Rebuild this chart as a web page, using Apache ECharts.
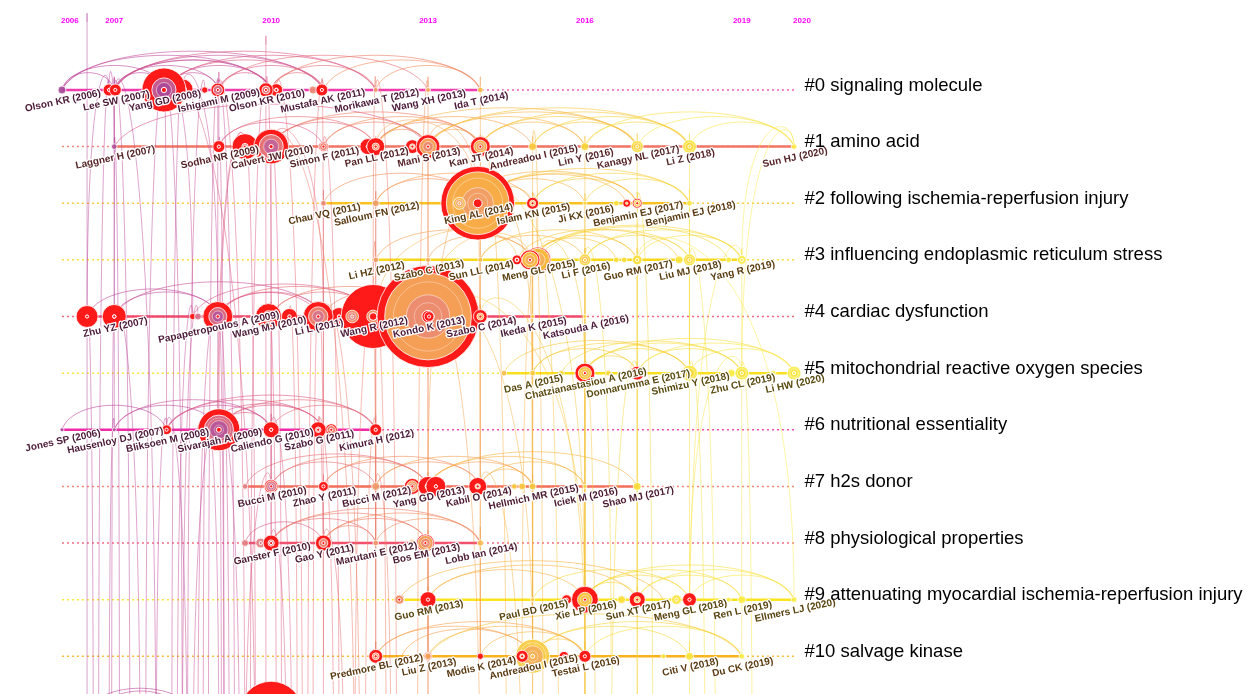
<!DOCTYPE html>
<html>
<head>
<meta charset="utf-8">
<title>Timeline view</title>
<script src="https://cdn.jsdelivr.net/npm/echarts@6.0.0/dist/echarts.min.js"></script>
<style>
  html, body { margin: 0; padding: 0; background: #fff; }
  #timeline { width: 1248px; height: 694px; }
</style>
</head>
<body>
<div id="timeline"></div>
<script>
// time slices printed along the top
const yearTicks = ['2006', '2007', '2010', '2013', '2016', '2019', '2020'];

const clusterNames = [
    '#0 signaling molecule',
    '#1 amino acid',
    '#2 following ischemia-reperfusion injury',
    '#3 influencing endoplasmic reticulum stress',
    '#4 cardiac dysfunction',
    '#5 mitochondrial reactive oxygen species',
    '#6 nutritional essentiality',
    '#7 h2s donor',
    '#8 physiological properties',
    '#9 attenuating myocardial ischemia-reperfusion injury',
    '#10 salvage kinase'
];

// nodes of each cluster : [year, citations, burst share, label]
const cluster0 = [
    [2006, 4, 0, 'Olson KR (2006)'],
    [2006.9, 9, 0.9, ''],
    [2007.02, 9, 0.9, 'Lee SW (2007)'],
    [2008.3, 30, 0.6, ''],
    [2007.95, 121, 0.45, 'Yang GD (2008)'],
    [2008.73, 2.5, 1, ''],
    [2008.98, 12, 0.35, 'Ishigami M (2009)'],
    [2010.1, 10, 0.7, ''],
    [2009.9, 13, 0.45, 'Olson KR (2010)'],
    [2010.8, 4, 0, ''],
    [2010.97, 9, 1, 'Mustafa AK (2011)'],
    [2012, 1.5, 0, 'Morikawa T (2012)'],
    [2013, 1.5, 0, 'Wang XH (2013)'],
    [2014, 2, 0, 'Ida T (2014)']
];
const cluster1 = [
    [2007, 2, 0, 'Laggner H (2007)'],
    [2009, 9, 0.8, 'Sodha NR (2009)'],
    [2009.5, 42, 0.75, ''],
    [2010, 75, 0.3, 'Calvert JW (2010)'],
    [2011, 6, 0.2, 'Simon F (2011)'],
    [2011.85, 16, 0.8, ''],
    [2012, 20, 0.6, 'Pan LL (2012)'],
    [2012.7, 12, 0.6, ''],
    [2013, 36, 0.3, 'Mani S (2013)'],
    [2014, 25, 0.35, 'Kan JT (2014)'],
    [2015, 4, 0, 'Andreadou I (2015)'],
    [2016, 4, 0, 'Lin Y (2016)'],
    [2017, 9, 0, 'Kanagy NL (2017)'],
    [2018, 12, 0, 'Li Z (2018)'],
    [2020, 2, 0, 'Sun HJ (2020)']
];
const cluster2 = [
    [2011, 2, 0, 'Chau VQ (2011)'],
    [2012, 3, 0, 'Salloum FN (2012)'],
    [2013.95, 340, 0.15, 'King AL (2014)'],
    [2013.6, 9, 0, ''],
    [2015, 9, 0.5, 'Islam KN (2015)'],
    [2016, 1, 0, 'Ji KX (2016)'],
    [2016.6, 2, 0, ''],
    [2016.8, 4, 0.7, ''],
    [2017, 6, 0.3, 'Benjamin EJ (2017)'],
    [2018, 2, 0, 'Benjamin EJ (2018)']
];
const cluster3 = [
    [2012, 2, 0, 'Li HZ (2012)'],
    [2013, 1.5, 0, 'Szabo C (2013)'],
    [2014, 1.5, 0, 'Sun LL (2014)'],
    [2015.1, 42, 0.1, 'Meng GL (2015)'],
    [2014.95, 25, 0.2, ''],
    [2014.7, 6, 0.6, ''],
    [2016, 9, 0, 'Li F (2016)'],
    [2016.6, 2, 0, ''],
    [2016.75, 2, 0, ''],
    [2017, 6, 0, 'Guo RM (2017)'],
    [2017.8, 4, 0, ''],
    [2018, 9, 0, 'Liu MJ (2018)'],
    [2018.75, 2, 0, ''],
    [2019, 5, 0, 'Yang R (2019)']
];
const cluster4 = [
    [2006.48, 30, 0.9, ''],
    [2007, 36, 0.85, 'Zhu YZ (2007)'],
    [2008.5, 2.5, 1, ''],
    [2008.6, 3, 0, ''],
    [2008.98, 56, 0.4, 'Papapetropoulos A (2009)'],
    [2010.35, 16, 0.8, ''],
    [2009.95, 42, 0.55, 'Wang MJ (2010)'],
    [2011.3, 20, 0.8, ''],
    [2010.9, 56, 0.35, 'Li L (2011)'],
    [2011.95, 256, 0.8, 'Wang R (2012)'],
    [2011.55, 10, 0, ''],
    [2013, 650, 0.15, 'Kondo K (2013)'],
    [2013.02, 6, 1, ''],
    [2014, 12, 0.5, 'Szabo C (2014)'],
    [2015, 1, 0, 'Ikeda K (2015)'],
    [2016, 1, 0, 'Katsouda A (2016)']
];
const cluster5 = [
    [2014.45, 2, 0, ''],
    [2015, 2, 0, 'Das A (2015)'],
    [2015.55, 2, 0, ''],
    [2016, 25, 0.35, 'Chatzianastasiou A (2016)'],
    [2016.45, 2, 0, ''],
    [2017, 12, 0.5, 'Donnarumma E (2017)'],
    [2018, 16, 0, 'Shimizu Y (2018)'],
    [2018.8, 4, 0, ''],
    [2019, 12, 0, 'Zhu CL (2019)'],
    [2019.6, 2, 0, ''],
    [2020, 12, 0, 'Li HW (2020)']
];
const cluster6 = [
    [2006, 1, 0, 'Jones SP (2006)'],
    [2007, 1, 0, 'Hausenloy DJ (2007)'],
    [2008, 6, 0.9, 'Bliksoen M (2008)'],
    [2008.75, 20, 0.8, ''],
    [2009, 110, 0.3, 'Sivarajah A (2009)'],
    [2010, 16, 0.8, 'Caliendo G (2010)'],
    [2011.15, 9, 0.3, ''],
    [2010.9, 16, 0.65, 'Szabo G (2011)'],
    [2012, 9, 0.8, 'Kimura H (2012)']
];
const cluster7 = [
    [2009.5, 2, 0, ''],
    [2010, 12, 0.2, 'Bucci M (2010)'],
    [2011, 6, 0.9, 'Zhao Y (2011)'],
    [2012, 4, 0, 'Bucci M (2012)'],
    [2012.7, 16, 0.3, ''],
    [2013, 25, 0.7, 'Yang GD (2013)'],
    [2013.15, 25, 0.85, ''],
    [2013.95, 20, 0.7, 'Kabil O (2014)'],
    [2014.65, 2, 0, ''],
    [2014.8, 3, 0, ''],
    [2015, 3, 0, 'Hellmich MR (2015)'],
    [2016, 1, 0, 'Iciek M (2016)'],
    [2017, 4, 0, 'Shao MJ (2017)']
];
const cluster8 = [
    [2009.5, 3, 0, ''],
    [2009.8, 6, 0, ''],
    [2010, 16, 0.6, 'Ganster F (2010)'],
    [2011, 16, 0.45, 'Gao Y (2011)'],
    [2012, 2, 0, 'Marutani E (2012)'],
    [2012.7, 3, 0, ''],
    [2012.95, 20, 0.15, 'Bos EM (2013)'],
    [2014, 2.5, 0, 'Lobb Ian (2014)']
];
const cluster9 = [
    [2012.45, 6, 0.1, ''],
    [2013, 16, 0.9, 'Guo RM (2013)'],
    [2015, 1, 0, 'Paul BD (2015)'],
    [2015.65, 6, 1, ''],
    [2016, 45, 0.45, 'Xie LP (2016)'],
    [2016.7, 4, 0, ''],
    [2017, 16, 0.6, 'Sun XT (2017)'],
    [2017.75, 6, 0, ''],
    [2018, 12, 0.8, 'Meng GL (2018)'],
    [2018.75, 1.5, 0, ''],
    [2019, 4, 0, 'Ren L (2019)'],
    [2020, 2, 0, 'Ellmers LJ (2020)']
];
const cluster10 = [
    [2012, 12, 0.5, 'Predmore BL (2012)'],
    [2013, 4, 0.2, 'Liu Z (2013)'],
    [2014, 2.5, 1, 'Modis K (2014)'],
    [2015, 72, 0, 'Andreadou I (2015)'],
    [2014.8, 9, 0.6, ''],
    [2015.6, 6, 0.9, ''],
    [2016, 9, 0.9, 'Testai L (2016)'],
    [2017.5, 1.5, 0, ''],
    [2018, 4, 0, 'Citi V (2018)'],
    [2019, 2, 0, 'Du CK (2019)']
];
// next cluster, cut off by the bottom edge
const cluster11 = [
    [2007, 20, 0.3, ''],
    [2010, 250, 0.9, '']
];

// co-citation arcs inside one cluster : [cluster, yearA, yearB]
const rowArcs = [
    [0, 2006, 2010], [0, 2006, 2011], [0, 2006, 2008], [0, 2007, 2010], [0, 2007.02, 2010], [0, 2007, 2009],
    [0, 2007, 2011], [0, 2008, 2010], [0, 2008, 2011], [0, 2008, 2009], [0, 2009, 2011], [0, 2009, 2010],
    [0, 2010, 2012], [0, 2010, 2011], [0, 2011, 2014], [0, 2012, 2014], [0, 2008, 2012], [0, 2009, 2013],
    [0, 2007, 2008], [0, 2006, 2007], [0, 2007, 2012], [0, 2010, 2014],
    [1, 2007, 2013], [1, 2009, 2012], [1, 2010, 2013], [1, 2010, 2014], [1, 2011, 2014], [1, 2012, 2014],
    [1, 2012, 2015], [1, 2013, 2016], [1, 2013, 2017], [1, 2014, 2017], [1, 2014, 2018], [1, 2015, 2017],
    [1, 2016, 2018], [1, 2017, 2020], [1, 2018, 2020], [1, 2012, 2013], [1, 2013, 2014], [1, 2011, 2013],
    [1, 2010, 2012], [1, 2015, 2018], [1, 2014, 2016], [1, 2012, 2017], [1, 2009, 2011], [1, 2013, 2018],
    [1, 2016, 2020],
    [2, 2014, 2017], [2, 2014, 2018], [2, 2014, 2016], [2, 2015, 2017], [2, 2011, 2014], [2, 2012, 2014],
    [2, 2014, 2015], [2, 2015, 2018], [2, 2016, 2018], [2, 2013.6, 2017], [2, 2014, 2016.8], [2, 2012, 2015],
    [3, 2014, 2017], [3, 2015, 2018], [3, 2015, 2019], [3, 2015, 2017], [3, 2016, 2019], [3, 2016, 2018],
    [3, 2017, 2019], [3, 2014, 2016], [3, 2015, 2016.6], [3, 2012, 2015], [3, 2013, 2015], [3, 2015.1, 2018.75],
    [3, 2014.7, 2017.8],
    [4, 2007, 2009], [4, 2007, 2011], [4, 2009, 2012], [4, 2010, 2012], [4, 2011, 2013], [4, 2009, 2011],
    [4, 2012, 2014], [4, 2010, 2013], [4, 2008.5, 2012], [4, 2006.48, 2009], [4, 2008.98, 2010.9],
    [5, 2015, 2018], [5, 2016, 2019], [5, 2016, 2020], [5, 2017, 2020], [5, 2015, 2017], [5, 2016, 2018],
    [5, 2018, 2020], [5, 2015.55, 2019], [5, 2016, 2017], [5, 2014.45, 2018], [5, 2017, 2019],
    [6, 2006, 2008], [6, 2007, 2009], [6, 2008, 2010], [6, 2008, 2011], [6, 2009, 2011], [6, 2009, 2012],
    [6, 2010, 2012], [6, 2008, 2012], [6, 2007, 2010], [6, 2008.75, 2011], [6, 2009, 2010],
    [7, 2010, 2013], [7, 2011, 2014], [7, 2012, 2014], [7, 2013, 2015], [7, 2013, 2016], [7, 2014, 2016],
    [7, 2013, 2017], [7, 2012, 2015], [7, 2010, 2012], [7, 2014, 2015], [7, 2009.5, 2013], [7, 2011, 2013],
    [8, 2010, 2012], [8, 2010, 2013], [8, 2011, 2013], [8, 2012, 2014], [8, 2010, 2014], [8, 2011, 2012],
    [8, 2009.5, 2011], [8, 2011, 2014],
    [9, 2013, 2016], [9, 2013, 2017], [9, 2015, 2018], [9, 2016, 2018], [9, 2016, 2019], [9, 2017, 2019],
    [9, 2017, 2020], [9, 2018, 2020], [9, 2016, 2017], [9, 2012.45, 2017.5], [9, 2016, 2020],
    [10, 2012, 2015], [10, 2012, 2016], [10, 2013, 2016], [10, 2014, 2016], [10, 2015, 2018], [10, 2015, 2019],
    [10, 2016, 2019], [10, 2012.5, 2015], [10, 2013, 2019], [10, 2015, 2016],
    [11, 2006.48, 2008.5], [11, 2006.7, 2008.3]
];

// links between clusters : [yearA, clusterA, yearB, clusterB]
const crossLinks = [
    [2006.48, -1.2, 2006.48, 13], [2006.9, 0, 2006.48, 4], [2007, 0, 2007, 4], [2007, 0, 2007, 6],
    [2007, 0, 2007.3, 13], [2007.95, 0, 2008, 6], [2007.95, 0, 2007.6, 13], [2007.95, 0, 2008.3, 12],
    [2008.98, 0, 2008.98, 6], [2008.98, 0, 2009.3, 13], [2008.3, 0, 2008.98, 4], [2007, 4, 2007.5, 13],
    [2008.98, 4, 2009.2, 13], [2008.98, 4, 2008.6, 12], [2008, 6, 2007.8, 13], [2009, 6, 2009.4, 13],
    [2009, 6, 2008.5, 13], [2008.75, 6, 2009, 12], [2007, 1, 2006.9, 0], [2009, 1, 2009, 0],
    [2009.5, 1, 2008.98, 6], [2008.6, 4, 2008.3, 13], [2008.5, 4, 2007.95, 0], [2007, 6, 2006.9, 13],
    [2009, 6, 2009.5, 1], [2008.98, 0, 2009.5, 13],
    [2006.9, 0, 2006.7, 13], [2007.02, 0, 2007.8, 13], [2008.3, 0, 2008.1, 13], [2008.73, 0, 2008.4, 13],
    [2007.95, 0, 2009.7, 13], [2008.98, 0, 2008.8, 13], [2006.48, 4, 2006.6, 13], [2007, 4, 2006.95, 13],
    [2008.5, 4, 2008.2, 13], [2008.98, 4, 2009.1, 13], [2008, 6, 2008.4, 13], [2009, 6, 2009.05, 13],
    [2008.75, 6, 2008.7, 13], [2009, 1, 2009.1, 13], [2007, 1, 2007.1, 13], [2009.5, 1, 2009.7, 13],
    [2009.9, -0.8, 2009.9, 13], [2009.9, 0, 2010, 4], [2010, 1, 2010, 8], [2010, 1, 2010.2, 13],
    [2010.97, 0, 2011, 6], [2010.9, 4, 2011, 8], [2011, 1, 2011.3, 13], [2011.95, 4, 2012, 10],
    [2012, 1, 2012, 10], [2012, 4, 2012.2, 13], [2010, 6, 2010, 8], [2010.9, 6, 2011, 10],
    [2012, 6, 2012, 9], [2012, 7, 2012.3, 13], [2011, 7, 2011, 13], [2010, 8, 2010.3, 13],
    [2011, 8, 2011.4, 13], [2010, 4, 2010, 7], [2011.95, 4, 2012, 0], [2010, 1, 2011, 4],
    [2012, 10, 2012, 13], [2011, 2, 2011, 6], [2012, 2, 2012, 8], [2012, 3, 2011.95, 4],
    [2010, 7, 2009.5, 13], [2009.9, 0, 2009.6, 13], [2010.1, 0, 2010.6, 13], [2009.95, 4, 2010.1, 13],
    [2010.9, 4, 2010.8, 13], [2010.35, 4, 2010.5, 13], [2010, 6, 2010.4, 13], [2010.9, 6, 2011.2, 13],
    [2012, 6, 2011.8, 13], [2010, 1, 2011.6, 13], [2011, 4, 2011.7, 13], [2011.95, 4, 2011.6, 13],
    [2012, 0, 2012.4, 13], [2011, 0, 2010.7, 13],
    [2013, 1, 2013, 10], [2013, 4, 2013, 9], [2013.95, 2, 2014, 10], [2014, 1, 2014, 7],
    [2013, 0, 2013, 4], [2014, 0, 2014, 4], [2015, 3, 2015, 10], [2015, 2, 2015, 9],
    [2015, 1, 2015, 10], [2014, 4, 2014, 10], [2013, 7, 2013, 10], [2014, 8, 2014, 10],
    [2013, 8, 2013, 13], [2013, 4, 2015, 10], [2013, 4, 2014.95, 3], [2013.95, 2, 2015, 5],
    [2013, 1, 2013.95, 2], [2012, 1, 2013.95, 2], [2014.95, 3, 2015, 13], [2015.1, 3, 2014.8, 10],
    [2013, 9, 2013, 13], [2014, 7, 2014.8, 13], [2015, 7, 2015, 13], [2013, 4, 2014, 13],
    [2014, 2, 2013, 7], [2012, 4, 2014.7, 3], [2015, 1, 2015.1, 3], [2013, 0, 2012.8, 13],
    [2013, 4, 2016, 9], [2014, 4, 2016, 10], [2013.95, 2, 2016, 9], [2015.1, 3, 2015.5, 13],
    [2015, 2, 2015.2, 13], [2014, 1, 2014.5, 13],
    [2016, 3, 2016, 9], [2016, 5, 2016, 10], [2017, 3, 2017, 9], [2017, 1, 2017, 5],
    [2018, 3, 2018, 9], [2016, 2, 2016, 13], [2019, 3, 2019, 10], [2018, 1, 2018, 5],
    [2017, 5, 2017, 13], [2016, 1, 2016, 9], [2016, 5, 2016.2, 13], [2019, 5, 2018, 9],
    [2020, 1, 2019, 5], [2017, 2, 2017, 9], [2018, 2, 2018, 5], [2016, 3, 2016, 13],
    [2017, 9, 2017, 13], [2018, 5, 2018.3, 13], [2016, 9, 2016, 13], [2019, 3, 2018, 10],
    [2017, 3, 2020, 9], [2015.1, 3, 2016, 5], [2016, 10, 2016, 13], [2018, 10, 2018, 13],
    [2020, 1, 2019, 3], [2016, 3, 2016.5, 10], [2017, 5, 2016.5, 13], [2018, 3, 2018.5, 13],
    [2019, 5, 2019.2, 13], [2017, 2, 2017.3, 13]
];

// ---- styles ----
const ringColors = ['#9c3f98', '#a8489a', '#b3549c', '#c0619a', '#d6738e', '#e27f82', '#ea8a76',
    '#f09c6a', '#f4ad5c', '#f7bd4c', '#f8ca3e', '#f8d638', '#f9df3a', '#fae640', '#fbec48'];
const linkColors = ['#b8479e', '#bc4a9e', '#c04c9c', '#c8509a', '#dc5a84', '#e66a74', '#ec7a66',
    '#f28c5a', '#f6a04e', '#f8b444', '#f8c63c', '#f8d63a', '#f9e040', '#fae648', '#fbec50'];
const rowColors = ['#f03cac', '#f27464', '#f9c21e', '#f9d81c', '#f24a6a', '#f9e01e',
    '#f02aa6', '#f2705c', '#f2506c', '#f9e41e', '#f9b21e', '#c050a0'];
const labelColors = ['#4b1a38', '#552528', '#5a3a12', '#5a3e10', '#4b1a38', '#5a4a10',
    '#4b1a38', '#4b1a30', '#4b1a30', '#5a4410', '#5a3a12', '#4b1a38'];
const BURST = '#ff1a1a';
const LABEL_FONT = 'bold 10px "Liberation Sans", Arial, sans-serif';

function pick(list, year) {
    const i = Math.max(0, Math.min(list.length - 1, Math.round(year) - 2006));
    return list[i];
}
function rgba(hex, a) {
    const n = parseInt(hex.slice(1), 16);
    return `rgba(${(n >> 16) & 255},${(n >> 8) & 255},${n & 255},${a})`;
}

const clusters = [cluster0, cluster1, cluster2, cluster3, cluster4, cluster5,
    cluster6, cluster7, cluster8, cluster9, cluster10, cluster11];
const nodes = [];
clusters.forEach((list, row) => list.forEach(n => nodes.push({
    year: n[0], row, count: n[1], burst: n[2], label: n[3]
})));
const labeled = nodes.filter(n => n.label);
const rowSpans = clusters.map((list, row) => [
    Math.min(...list.map(n => n[0])), row, Math.max(...list.map(n => n[0]))
]);
const linkData = rowArcs.map(a => [a[1], a[0], a[2], a[0], 0])
    .concat(crossLinks.map(l => [l[0], l[1], l[2], l[3], 1]));

const firstYear = Number(yearTicks[0]);
const lastYear = Number(yearTicks[yearTicks.length - 1]);

function renderRow(params, api) {
    const row = api.value(1);
    const y = api.coord([firstYear, row])[1];
    const a = api.coord([firstYear, row])[0];
    const b = api.coord([lastYear, row])[0];
    const s0 = api.coord([api.value(0), row])[0];
    const s1 = api.coord([api.value(2), row])[0];
    const col = rowColors[row];
    return {
        type: 'group',
        children: [
            { type: 'line', shape: { x1: a, y1: y, x2: b, y2: y },
              style: { stroke: rgba(col, 0.85), lineWidth: 1.5, lineDash: [2, 3] } },
            { type: 'line', shape: { x1: s0, y1: y, x2: s1, y2: y },
              style: { stroke: col, lineWidth: 2.5 } }
        ]
    };
}

function renderLink(params, api) {
    const p = api.coord([api.value(0), api.value(1)]);
    const q = api.coord([api.value(2), api.value(3)]);
    const sameRow = api.value(4) === 0;
    const dx = Math.abs(q[0] - p[0]);
    const top = Math.min(p[1], q[1]);
    let k, inset, yr;
    if (sameRow) {
        k = 3.2 * Math.sqrt(dx);
        inset = 0.1 * (q[0] - p[0]);
        yr = (api.value(0) + api.value(2)) / 2;
    } else {
        k = 30 + 0.12 * dx;
        inset = 0;
        yr = Math.max(api.value(0), api.value(2));
    }
    return {
        type: 'bezierCurve',
        shape: { x1: p[0], y1: p[1], x2: q[0], y2: q[1],
                 cpx1: p[0] + inset, cpy1: top - k, cpx2: q[0] - inset, cpy2: top - k },
        style: { fill: 'none', stroke: rgba(pick(linkColors, yr), sameRow ? 0.6 : 0.5), lineWidth: 1 }
    };
}

function circle(c, r, fill, stroke, lw) {
    return { type: 'circle', shape: { cx: c[0], cy: c[1], r },
             style: { fill, stroke: stroke || 'none', lineWidth: lw || 1 } };
}

function renderNode(params, api) {
    const n = nodes[params.dataIndex];
    const c = api.coord([n.year, n.row]);
    const r = 2 * Math.sqrt(n.count);
    const kids = [];
    let ri = r;
    if (n.burst > 0) {
        kids.push(circle(c, r, BURST, 'rgba(255,255,255,0.8)'));
        ri = r * (1 - n.burst);
    }
    if (ri > 0.5) {
        kids.push(circle(c, ri, rgba(pick(ringColors, n.year + 1), 0.9), 'rgba(255,255,255,0.8)'));
        if (ri > 5) {
            kids.push(circle(c, ri * (ri > 20 ? 0.5 : 0.62), rgba(pick(ringColors, n.year - 1), 0.85),
                'rgba(255,255,255,0.5)'));
        }
        if (ri > 14) {
            kids.push(circle(c, ri * 0.8, 'none', 'rgba(255,255,255,0.35)'));
            kids.push(circle(c, ri * 0.32, 'none', 'rgba(255,255,255,0.35)'));
        }
    }
    if (r > 4) {
        kids.push(circle(c, Math.max(1.6, r * 0.12), n.burst > 0 ? BURST : pick(ringColors, n.year), '#fff'));
    }
    return { type: 'group', children: kids };
}

function renderLabel(params, api) {
    const n = labeled[params.dataIndex];
    const c = api.coord([n.year, n.row]);
    return {
        type: 'text', x: c[0] + 1, y: c[1] + 11, rotation: 12 * Math.PI / 180,
        style: { text: n.label, font: LABEL_FONT, fill: labelColors[n.row],
                 stroke: '#fff', lineWidth: 2.5,
                 align: 'center', verticalAlign: 'middle',
                 textAlign: 'center', textVerticalAlign: 'middle' }
    };
}

function renderClusterName(params, api) {
    const c = api.coord([api.value(0), api.value(1)]);
    return {
        type: 'text', x: c[0], y: c[1] - 4.5,
        style: { text: clusterNames[params.dataIndex], font: '18.5px "Liberation Sans", Arial, sans-serif',
                 fill: '#000', align: 'left', verticalAlign: 'middle',
                 textAlign: 'left', textVerticalAlign: 'middle' }
    };
}

function renderTick(params, api) {
    const c = api.coord([api.value(0), api.value(1)]);
    const edge = params.dataIndex === 0 || params.dataIndex === yearTicks.length - 1;
    return {
        type: 'text', x: edge ? c[0] - 1 : c[0], y: c[1],
        style: { text: yearTicks[params.dataIndex], font: 'bold 8px "Liberation Sans", Arial, sans-serif',
                 fill: '#ff00ff', align: edge ? 'left' : 'center', verticalAlign: 'middle',
                 textAlign: edge ? 'left' : 'center', textVerticalAlign: 'middle' }
    };
}

const chart = echarts.init(document.getElementById('timeline'));
chart.setOption({
    animation: false,
    backgroundColor: '#fff',
    grid: { left: 0, right: 0, top: 0, bottom: 0 },
    xAxis: { type: 'value', min: 2004.815, max: 2028.68, show: false },
    yAxis: { type: 'value', min: -1.589, max: 10.666, inverse: true, show: false },
    series: [
        { type: 'custom', silent: true, z: 1, renderItem: renderRow, data: rowSpans },
        { type: 'custom', silent: true, z: 2, renderItem: renderLink, data: linkData },
        { type: 'custom', silent: true, z: 3, renderItem: renderNode, data: nodes.map(n => [n.year, n.row]) },
        { type: 'custom', silent: true, z: 4, renderItem: renderLabel, data: labeled.map(n => [n.year, n.row]) },
        { type: 'custom', silent: true, z: 5, renderItem: renderClusterName,
          data: clusterNames.map((_, i) => [2020.2, i]) },
        { type: 'custom', silent: true, z: 5, renderItem: renderTick,
          data: yearTicks.map(t => [Number(t), -1.22]) }
    ]
});

window.addEventListener('resize', () => chart.resize());
</script>
</body>
</html>
